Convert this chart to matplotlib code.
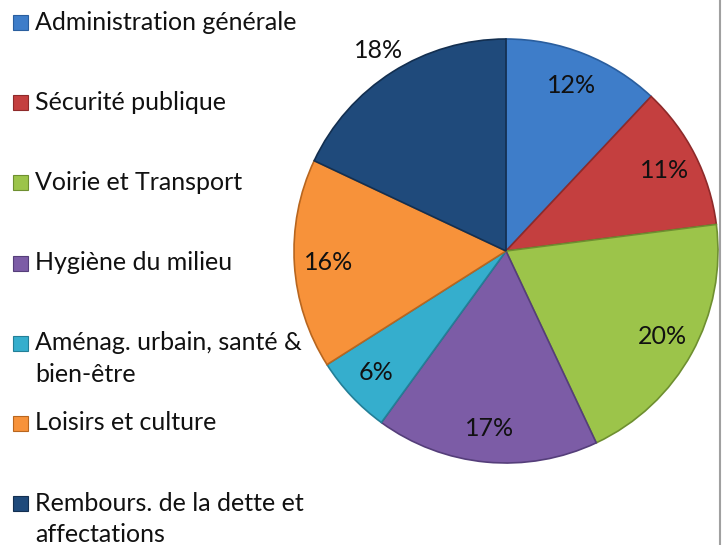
import matplotlib
matplotlib.use("Agg")
import matplotlib.pyplot as plt
from matplotlib.patches import Rectangle
import numpy as np

categories = ["Administration générale", "Sécurité publique", "Voirie et Transport",
              "Hygiène du milieu", "Aménag. urbain, santé &\nbien-être",
              "Loisirs et culture", "Rembours. de la dette et\naffectations"]
values = [12, 11, 20, 17, 6, 16, 18]
pct_labels = ["12%", "11%", "20%", "17%", "6%", "16%", "18%"]
colors = ["#3E7DC9", "#C43F3F", "#9CC44A", "#7C5CA6", "#35AECD", "#F7923A", "#1F4A7B"]
edges = ["#2A5E9E", "#8E2A2A", "#6E8F30", "#553E7A", "#237F97", "#B8661F", "#132F50"]

W, H = 726, 545
plt.rcParams['font.family'] = ['Lato', 'DejaVu Sans']
fig = plt.figure(figsize=(W / 100, H / 100), dpi=100)
fig.patch.set_facecolor("white")

cx, cy, R = 506, 251, 212
ax = fig.add_axes([(cx - R) / W, (H - cy - R) / H, 2 * R / W, 2 * R / H])
wedges, _ = ax.pie(values, colors=colors, startangle=90, counterclock=False,
                   radius=1, wedgeprops=dict(linewidth=1.2))
for w, e in zip(wedges, edges):
    w.set_edgecolor(e)
ax.set_xlim(-1, 1)
ax.set_ylim(-1, 1)
ax.set_aspect("equal")
ax.axis("off")

for i, (w, lab) in enumerate(zip(wedges, pct_labels)):
    ang = np.deg2rad((w.theta1 + w.theta2) / 2)
    d = 1.12 if i == 6 else 0.84
    ax.text(d * np.cos(ang), d * np.sin(ang), lab, ha="center", va="center",
            fontsize=18, color="#111111")

# legend (manual, Excel-like fixed spacing)
for i, (lab, c, e) in enumerate(zip(categories, colors, edges)):
    ytop = 22.5 + 80.2 * i
    fig.patches.append(Rectangle((13 / W, 1 - (ytop + 7.5) / H), 15 / W, 15 / H,
                                 transform=fig.transFigure, facecolor=c,
                                 edgecolor=e, linewidth=0.8))
    fig.text(35 / W, 1 - (ytop - 12) / H, lab, ha="left", va="top",
             fontsize=18, color="#111111", linespacing=1.45)

fig.add_artist(plt.Line2D([720 / W, 720 / W], [0.0, 1.0], color="#A0A0A0", lw=1.5))
fig.savefig("out.png", dpi=100)
